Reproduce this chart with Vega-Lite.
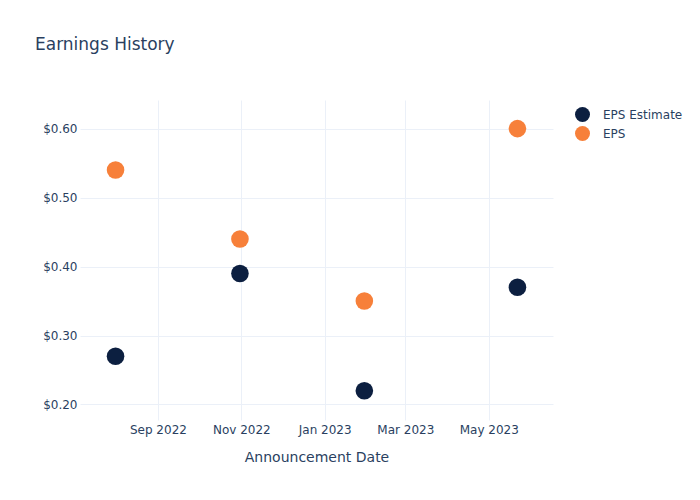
{
  "$schema": "https://vega.github.io/schema/vega-lite/v6.json",
  "width": 473,
  "height": 320,
  "autosize": {"type": "none"},
  "padding": {"left": 80, "top": 100, "right": 147, "bottom": 80},
  "background": "white",
  "config": {
    "font": "DejaVu Sans",
    "view": {"stroke": null},
    "axis": {
      "labelColor": "#2a3f5f",
      "titleColor": "#2a3f5f",
      "labelFontSize": 12,
      "gridColor": "#ebf0f8",
      "gridWidth": 1,
      "domain": false,
      "ticks": false,
      "labelFont": "DejaVu Sans",
      "titleFont": "DejaVu Sans"
    },
    "legend": {"labelColor": "#2a3f5f", "labelFontSize": 12, "labelFont": "DejaVu Sans"}
  },
  "title": {
    "text": "Earnings History",
    "anchor": "start",
    "frame": "group",
    "dx": -45,
    "offset": 46,
    "fontSize": 17,
    "fontWeight": "normal",
    "color": "#2a3f5f",
    "font": "DejaVu Sans"
  },
  "data": {
    "values": [
      {"date": "2022-08-01", "type": "EPS Estimate", "value": 0.27},
      {"date": "2022-10-31", "type": "EPS Estimate", "value": 0.39},
      {"date": "2023-01-30", "type": "EPS Estimate", "value": 0.22},
      {"date": "2023-05-22", "type": "EPS Estimate", "value": 0.37},
      {"date": "2022-08-01", "type": "EPS", "value": 0.54},
      {"date": "2022-10-31", "type": "EPS", "value": 0.44},
      {"date": "2023-01-30", "type": "EPS", "value": 0.35},
      {"date": "2023-05-22", "type": "EPS", "value": 0.60}
    ]
  },
  "mark": {"type": "circle", "size": 310, "opacity": 1},
  "encoding": {
    "x": {
      "field": "date",
      "type": "temporal",
      "title": "Announcement Date",
      "scale": {
        "type": "utc",
        "domain": [
          {"year": 2022, "month": 7, "date": 6, "utc": true},
          {"year": 2023, "month": 6, "date": 17, "utc": true}
        ]
      },
      "axis": {
        "values": [
          {"year": 2022, "month": 9, "date": 1, "utc": true},
          {"year": 2022, "month": 11, "date": 1, "utc": true},
          {"year": 2023, "month": 1, "date": 1, "utc": true},
          {"year": 2023, "month": 3, "date": 1, "utc": true},
          {"year": 2023, "month": 5, "date": 1, "utc": true}
        ],
        "format": "%b %Y",
        "labelPadding": 4,
        "titleFontSize": 14,
        "titleFontWeight": "normal",
        "titlePadding": 15
      }
    },
    "y": {
      "field": "value",
      "type": "quantitative",
      "title": null,
      "scale": {"domain": [0.1775, 0.6415], "nice": false, "zero": false},
      "axis": {"values": [0.2, 0.3, 0.4, 0.5, 0.6], "format": "$.2f", "labelPadding": 3}
    },
    "color": {
      "field": "type",
      "type": "nominal",
      "scale": {"domain": ["EPS Estimate", "EPS"], "range": ["#0c1f40", "#f7803a"]},
      "legend": {
        "title": null,
        "orient": "none",
        "legendX": 494,
        "legendY": 6,
        "symbolType": "circle",
        "symbolSize": 225,
        "symbolOpacity": 1,
        "rowPadding": 3,
        "labelOffset": 12
      }
    }
  }
}
